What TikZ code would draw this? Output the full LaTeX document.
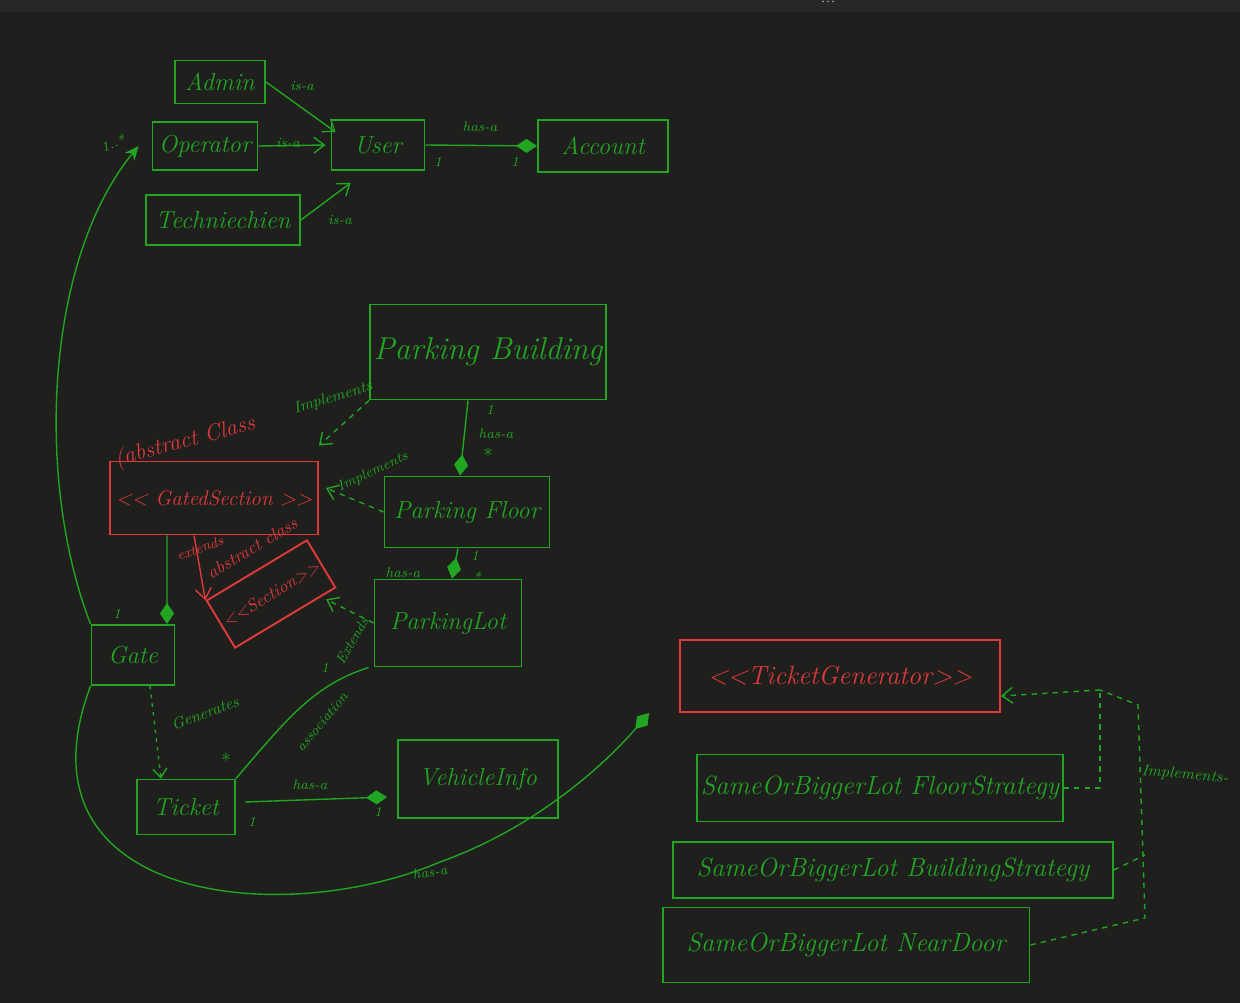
\documentclass[tikz,border=0pt]{standalone}
\usepackage{tikz}
\usetikzlibrary{arrows.meta,calc}
\definecolor{bg}{RGB}{31,31,30}
\definecolor{topbar}{RGB}{38,38,38}
\definecolor{grn}{RGB}{34,165,34}
\definecolor{rd}{RGB}{222,58,58}
\newcommand{\ltl}{<\kern0pt<}
\newcommand{\gtg}{>\kern0pt>}

\begin{document}
\begin{tikzpicture}[x=0.02cm, y=-0.02cm,
        cls/.style={draw=grn, line width=1.1pt, text=grn, font=\fontsize{14}{16}\selectfont\itshape, inner sep=2pt},
        abs/.style={cls, draw=rd, text=rd},
        strat/.style={cls, font=\fontsize{15}{17}\selectfont\itshape},
        lbl/.style={text=grn, font=\fontsize{8}{9}\selectfont\itshape, inner sep=1pt},
        rlbl/.style={lbl, text=rd, font=\fontsize{10}{11}\selectfont\itshape},
        conn/.style={draw=grn, line width=0.8pt},
        isa/.style={conn, -{Straight Barb[length=6pt, width=9pt]}},
        hasa/.style={conn, -{Diamond[length=12pt, width=8pt]}},
        impl/.style={conn, dashed, -{Straight Barb[length=6pt, width=9pt]}}]
        % Fons i barra de dalt
        \fill[bg] (0,0) rectangle (1240,1003);
        \fill[topbar] (0,0) rectangle (1240,12);
        \foreach \d in {823,828,833} \fill[gray!80] (\d,1.5) circle (1);
        \useasboundingbox (0,0) rectangle (1240,1003);

        % Usuaris
        \node[cls, minimum width=1.8cm, minimum height=0.86cm] (admin) at (220,82) {Admin};
        \node[cls, minimum width=2.1cm, minimum height=0.96cm] (operator) at (205,146) {Operator};
        \node[cls, minimum width=3.08cm, minimum height=1cm] (tech) at (223,220) {Techniechien};
        \node[cls, minimum width=1.86cm, minimum height=1cm] (user) at (378,145) {User};
        \node[cls, minimum width=2.6cm, minimum height=1.04cm] (account) at (603,146) {Account};

        \draw[isa] (admin.east) -- ([shift={(0.1cm,-0.26cm)}]user.north west);
        \draw[isa] (operator.east) -- ([xshift=-0.1cm]user.west);
        \draw[isa] (tech.east) -- ([shift={(0.4cm,-0.24cm)}]user.south west);
        \draw[hasa] (user.east) -- (account.west);
        \node[lbl] (isa1) at (302,86) {is-a};
        \node[lbl] (isa2) at (288,143) {is-a};
        \node[lbl] (isa3) at (340,220) {is-a};
        \node[lbl] (hasa1) at (480,127) {has-a};
        \node[lbl] (m1) at (438,162) {1};
        \node[lbl] (m2) at (515,162) {1};

        % Edifici, plantes i places
        \node[cls, minimum width=4.34cm, minimum height=1.9cm, font=\fontsize{18}{20}\selectfont\itshape] (building) at (488,352) {Parking Building};
        \node[cls, minimum width=3.3cm, minimum height=1.42cm] (floor) at (467,512) {Parking Floor};
        \node[cls, minimum width=2.94cm, minimum height=1.74cm] (lot) at (448,623) {ParkingLot};
        \node[abs, minimum width=4.16cm, minimum height=1.46cm, font=\fontsize{12}{14}\selectfont\itshape] (gated) at (214,498) {\ltl\ GatedSection \gtg};
        \node[abs, minimum width=2.2cm, minimum height=1.1cm, rotate=31, font=\fontsize{10}{12}\selectfont\itshape] (section) at (271,594) {\ltl Section\gtg};
        \node[rlbl, rotate=15, font=\fontsize{13}{15}\selectfont\itshape] (abstr1) at (185,442) {(abstract Class};
        \node[rlbl, rotate=31] (abstr2) at (252,548) {abstract class};
        \node[rlbl, rotate=20, font=\fontsize{8}{9}\selectfont\itshape] (ext1) at (200,548) {extends};

        \draw[hasa] ([xshift=-0.4cm]building.south) -- ([xshift=-0.14cm]floor.north);
        \draw[hasa] ([xshift=-0.18cm]floor.south) -- ([xshift=0.08cm]lot.north);
        \draw[impl] (building.south west) -- ([yshift=0.3cm]gated.north east);
        \draw[impl] (floor.west) -- ([shift={(0.14cm,0.2cm)}]gated.east);
        \draw[impl, shorten >=3pt] (lot.west) -- ($(section.south east)!0.3!(section.south)$);
        \draw[draw=rd, line width=0.8pt, -{Straight Barb[length=6pt, width=9pt]}] ([xshift=-0.4cm]gated.south) -- (section.north west);
        \node[lbl, rotate=17, font=\fontsize{9}{10}\selectfont\itshape] (impl1) at (333,398) {Implements};
        \node[lbl, rotate=25] (impl2) at (373,472) {Implements};
        \node[lbl, rotate=60] (ext2) at (352,641) {Extends};
        \node[lbl] (m3) at (490,410) {1};
        \node[lbl] (hasa2) at (496,434) {has-a};
        \node[lbl, font=\fontsize{11}{12}\selectfont] (m4) at (488,455) {*};
        \node[lbl] (hasa3) at (403,573) {has-a};
        \node[lbl] (m5) at (475,556) {1};
        \node[lbl] (m6) at (477,577) {*};

        % Porta i tiquet
        \node[cls, minimum width=1.66cm, minimum height=1.2cm] (gate) at (133,655) {Gate};
        \node[cls, minimum width=1.96cm, minimum height=1.1cm] (ticket) at (186,807) {Ticket};
        \node[cls, minimum width=3.2cm, minimum height=1.56cm] (vehicle) at (478,779) {VehicleInfo};

        \draw[hasa] ([xshift=-0.94cm]gated.south) -- ([xshift=0.68cm]gate.north);
        \draw[conn, -{Stealth[length=8pt, width=7pt]}] (gate.north west) .. controls (35,480) and (45,260) .. ([xshift=-0.26cm]operator.west);
        \draw[conn, dash pattern=on 2pt off 3pt, -{Straight Barb[length=5pt, width=8pt]}] ([xshift=0.34cm]gate.south) -- ([xshift=-0.5cm]ticket.north);
        \draw[conn] (ticket.north east) .. controls (290,715) and (315,685) .. ([xshift=-0.1cm]lot.south west);
        \draw[hasa] ([shift={(0.18cm,0.1cm)}]ticket.east) -- ([shift={(-0.2cm,-0.36cm)}]vehicle.west);
        \node[lbl, rotate=20] (m7) at (113,143) {1..*};
        \node[lbl] (m8) at (117,614) {1};
        \node[lbl, rotate=20, font=\fontsize{9}{10}\selectfont\itshape] (gen) at (205,713) {Generates};
        \node[lbl, font=\fontsize{11}{12}\selectfont] (m9) at (226,760) {*};
        \node[lbl] (m10) at (325,668) {1};
        \node[lbl, rotate=50] (assoc) at (322,722) {association};
        \node[lbl] (hasa4) at (310,785) {has-a};
        \node[lbl] (m11) at (252,822) {1};
        \node[lbl] (m12) at (378,812) {1};

        % Generador de tiquets i estrategies
        \node[abs, minimum width=6.4cm, minimum height=1.44cm, font=\fontsize{15}{17}\selectfont\itshape] (ticketgen) at (840,676) {\ltl TicketGenerator\gtg};
        \node[strat, minimum width=7.3cm, minimum height=1.34cm] (floorstr) at (880,788) {SameOrBiggerLot FloorStrategy};
        \node[strat, minimum width=8.8cm, minimum height=1.12cm] (buildstr) at (893,870) {SameOrBiggerLot BuildingStrategy};
        \node[strat, minimum width=7.34cm, minimum height=1.5cm] (neardoor) at (846,945) {SameOrBiggerLot NearDoor};

        \draw[hasa] (gate.south west) .. controls (10,900) and (280,930) .. (440,862)
                    .. controls (530,830) and (600,770) .. ([xshift=-0.6cm]ticketgen.south west);
        \node[lbl, rotate=10] (hasa5) at (430,872) {has-a};

        \coordinate (jn) at (1100,690);
        \draw[impl] (jn) -- ([yshift=-0.4cm]ticketgen.east);
        \draw[conn, dashed] (floorstr.east) -| (jn);
        \draw[conn, dashed] (neardoor.east) -- (1145,918) -- (1138,705) -- (jn);
        \draw[conn, dashed] (buildstr.east) -- (1145,855);
        \node[lbl, rotate=-5, font=\fontsize{9}{10}\selectfont\itshape] (impl3) at (1185,775) {Implements-};
    \end{tikzpicture}
\end{document}
